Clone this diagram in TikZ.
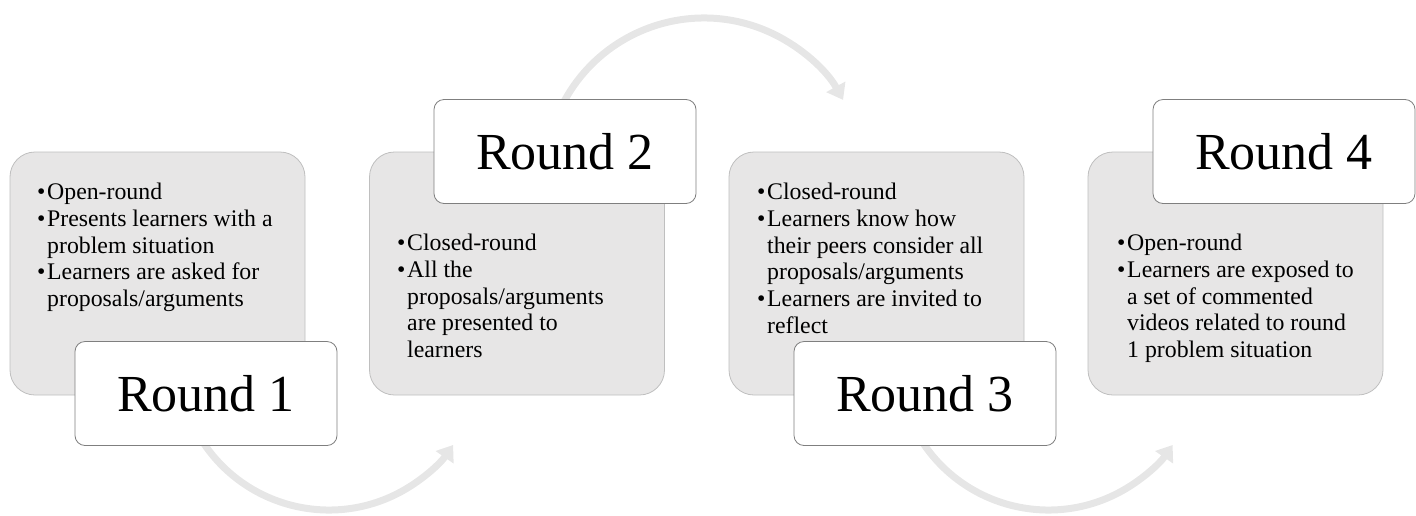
\documentclass[tikz,border=0pt]{standalone}
\usepackage{fontspec}
\setmainfont{Liberation Serif}
\usetikzlibrary{arrows.meta}
\definecolor{boxgray}{HTML}{E7E6E6}
\definecolor{arcgray}{HTML}{E6E6E6}
\definecolor{edgegray}{HTML}{BFBFBF}
\definecolor{darkedge}{HTML}{7F7F7F}
\newcommand{\bul}{\makebox[10pt][l]{•}}
\newcommand{\ind}{\hspace*{10pt}}
\begin{document}
\begin{tikzpicture}[x=1pt,y=-1pt,
  graybox/.style={draw=edgegray, fill=boxgray, rounded corners=25pt, line width=0.8pt,
    minimum width=295pt, minimum height=243pt, inner sep=0pt},
  whitebox/.style={draw=darkedge, fill=white, rounded corners=10pt, line width=0.8pt,
    minimum width=262pt, minimum height=104pt, inner sep=0pt,
    font=\fontsize{52}{60}\selectfont},
  bullettext/.style={anchor=north west, align=left, inner sep=0pt,
    font=\fontsize{23.8}{26.8}\selectfont},
  arcarrow/.style={draw=arcgray, line width=7pt,
    -{Triangle[width=21pt,length=15pt]}}]
\useasboundingbox (0,0) rectangle (1416,515);

% curved arrows (behind the boxes)
\coordinate (a1) at (198.2,434.5);
\coordinate (a2) at (559.9,109.8);
\coordinate (a3) at (917.7,434.5);
\draw[arcarrow] (a1) arc[start angle=150, end angle=34.7, radius=151];
\draw[arcarrow] (a2) arc[start angle=205, end angle=331, radius=159];
\draw[arcarrow] (a3) arc[start angle=150, end angle=34.7, radius=151];

% grey content boxes
\node[graybox] (g1) at (157.5,273.5) {};
\node[graybox] (g2) at (517,273.5) {};
\node[graybox] (g3) at (876.5,273.5) {};
\node[graybox] (g4) at (1235.5,273.5) {};

% bullet texts
\node[bullettext] (t1) at (37,182.7) {\bul Open-round\\ \bul Presents learners with a\\ \ind problem situation\\ \bul Learners are asked for\\ \ind proposals/arguments};
\node[bullettext] (t2) at (397,233.7) {\bul Closed-round\\ \bul All the\\ \ind proposals/arguments\\ \ind are presented to\\ \ind learners};
\node[bullettext] (t3) at (757,182.7) {\bul Closed-round\\ \bul Learners know how\\ \ind their peers consider all\\ \ind proposals/arguments\\ \bul Learners are invited to\\ \ind reflect};
\node[bullettext] (t4) at (1117,233.7) {\bul Open-round\\ \bul Learners are exposed to\\ \ind a set of commented\\ \ind videos related to round\\ \ind 1 problem situation};

% white title boxes
\node[whitebox] (w1) at (206,393.5) {Round 1};
\node[whitebox] (w2) at (565,151.5) {Round 2};
\node[whitebox] (w3) at (925,393.5) {Round 3};
\node[whitebox] (w4) at (1284,151.5) {Round 4};
\end{tikzpicture}
\end{document}
